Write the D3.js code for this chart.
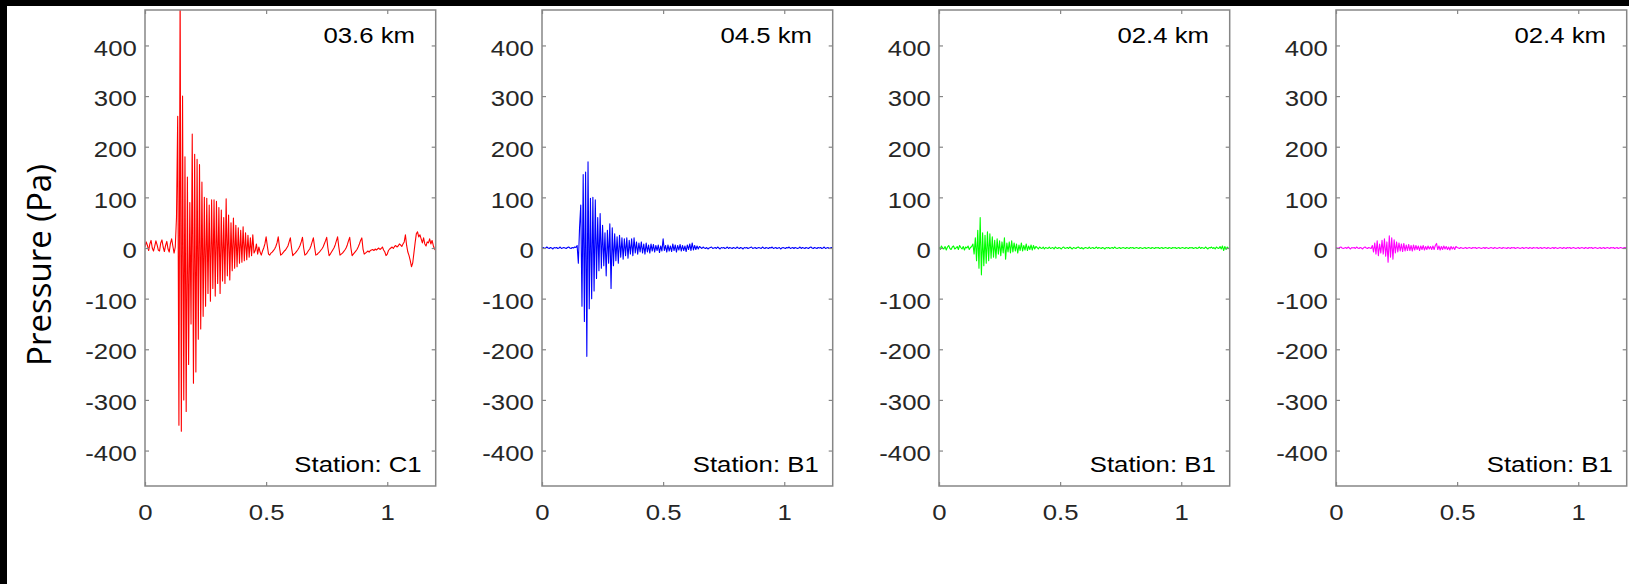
<!DOCTYPE html>
<html>
<head>
<meta charset="utf-8">
<script src="https://d3js.org/d3.v7.min.js"></script>
<style>
body { margin: 0; background: #fff; }
text { font-family: "Liberation Sans", Arial, sans-serif; }
</style>
</head>
<body>
<script>

// sample step of the pressure records (s)
let dt = 0.005;

let xTicks = [0, 0.5, 1];
let yTicks = [-400, -300, -200, -100, 0, 100, 200, 300, 400];
let distLabels = ["03.6 km", "04.5 km", "02.4 km", "02.4 km"];
let stationLabels = ["Station: C1", "Station: B1", "Station: B1", "Station: B1"];
let lineColors = ["#ff0000", "#0000ff", "#00ff00", "#ff00ff"];

// pressure (Pa)
let c1 = [2, 12, 5, -5, 8, 15, 0, -6, 3, 14, 6, -4, -6, 10, 16, 2, -7, 5, 13, -2, -8, 9, 18, 4, -10, 2,
  60, 260, -350, 520, -362, 300, -300, 180, -323, 140, -230, 90, -150, 225, -267, 185, -245, 175, -180, 165,
  -160, 130, -135, 100, -115, 98, -90, 85, -105, 95, -80, 95, -95, 92, -70, 80, -90, 75, -65, 60,
  -70, 97, -55, 65, -63, 50, -45, 59, -40, 45, -37, 40, -30, 35, -28, 42, -25, 30, -23, 25, -18, 20, -15, 26, -10,
  -5, 8, -12, 2, -8, -14, -6, 0, 8, 22,
  4, -12, -14, -10, -8, -5, -2, 3, 10, 22,
  2, -14, -12, -9, -6, -4, 0, 4, 12, 20,
  0, -15, -12, -10, -7, -4, 0, 5, 12, 21,
  0, -14, -12, -9, -5, -2, 4, 12, 20,
  2, -14, -13, -10, -8, -5, -2, 2, 8, 14, 21,
  0, -15, -12, -8, -4, 0, 6, 14, 22,
  2, -14, -12, -10, -7, -4, 0, 6, 14, 21,
  0, -15, -12, -9, -6, -3, 2, 8, 15, 20,
  -2, -12, -10, -8, -6, -8, -5, -4, -3, -5, -2, -4, -2, 0, -3, -1, 2, -4, -8, -15, -12,
  -5, -2, 0, 2, -1, 3, 5, 2, 4, 8, 6, 3, 8, 12, 26,
  5, -8, -15, -25, -37, -30, -10, 10, 28, 32, 22,
  26, 18, 10, 20, 8, 4, 12, 10, 18, 8, 15, 5, -2, -5];

let b1a = [0, 1, -1, 0, 2, 0, -1, 1, 0, -2, 1, 0, 1, -1, 0, 2, -1, 0, 1, 0, -1, 1, 2, 0, -1, 1, 0, 2, 1,
  5, -30, 40, 85, -115, 145, -145, 150, -214, 170, -120, 98, -100, 100, -85, 95, -60, 60, -45, 68,
  -40, 45, -35, 30, -55, 35, -30, 48, -80, 40, -35, 28, -25, 22, -30, 25, -18, 20, -22, 18,
  -15, 20, -20, 15, -12, 18, -15, 20, -10, 12, -12, 10, -8, 12, -10, 8, -12, 10, -8, 6, -10, 8,
  -6, 7, -8, 5, -5, 6, -9, 4, -6, 18,
  -5, 5, -8, 6, -6, 4, -7, 8, -5, 6, -8, 5, -4, 7, -6, 5, -5, 4, -7, 6, -3, 8, -5, 10, -4, 5, -3, 4, -2, 3,
  1, -1, 2, 0, -1, 1, -2, 0, 1, 2, -1, 0, 1, -1, 2, 0, -2, 1, 0, 1, -1, 0, 2, -1, 1, 0, -1, 1, 0, -1,
  2, 0, -1, 1, 0, -2, 1, 0, 1, -1, 0, 1, 2, -1, 0, 1, -1, 0, 1, 0, -1, 2, 0, -1, 1, 0, -1, 1, 0, 2,
  -1, 0, 1, -1, 0, 1, -2, 0, 1, 0, -1, 1, 0, 2, -1, 0, 1, -1, 1, 0, -1, 0, 2, -1, 1, 0, -1, 1, 0, -1,
  1, 2, 0, -1, 1, 0, -1, 1, 0, 1, -1, 0, 2, -1, 0, 1, -1, 0, 1, 0, 1, 0];

let b1b = [2, -3, 4, 0, -2, 3, -4, 2, 5, -1, -3, 2, 4, -2, 0, 3, -3, 5, 1, -2, 3, -4, 2, 0, 4, -3, 1, 3,
  8, -12, 20, -25, 35, -40, 60, -53, 30, -35, 25, -30, 32, -25, 28, -20, 22, -18, 15, -20,
  18, -12, 14, -15, 12, -10, 20, -22, 10, -8, 12, -10, 14, -8, 10, -6, 8, -10, 6, -5,
  10, -6, 5, -4, 8, -5, 4, -3, 6, -4, 5, -2, 3,
  1, -2, 2, 0, -1, 2, -2, 1, 0, -1, 2, -1, 0, 1, -2, 2, 0, -1, 1, 0, -2, 1, 2, -1, 0, 1, -1, 2, 0, -2,
  1, 0, -1, 1, 2, 0, -1, 1, -2, 0, 1, 0, -1, 2, -1, 0, 1, -1, 0, 2, -1, 1, 0, -1, 1, 0, -2, 1, 0, 1,
  -1, 0, 1, -1, 2, 0, -1, 0, 1, -1, 0, 1, 0, -1, 1, 0, -1, 1, 0, 1, -1, 0, 1, 0, -1, 1, 0, -1, 0, 1,
  -1, 0, 1, 0, -1, 1, 0, -1, 1, 0, 1, -1, 0, 1, -1, 0, 1, 0, -1, 1, 0, -1, 1, 0, 1, -1, 0, 1, -1, 0,
  1, 0, -1, 1, 0, -1, 1, 0, 1, -1, 0, 1, -1, 0, 2, -1, 1, 0, -1, 2, 0, -2, 1, 0, 2, -1, 1, -2, 2, 0,
  -1, 3, -2, 4, -5, 3, -3, 2, -1, 0];

let b1c = [1, 0, -1, 1, 2, 0, -1, 0, 1, -1, 2, 0, -2, 1, 0, 1, -1, 2, 0, -1, 1, 0, -2, 1, 2, 0, -1, 1, 0, -1,
  5, -8, 10, -12, 14, -15, 8, -10, 15, -12, 18, -16, 12, -28, 24, -18, 20, -22, 16, -10,
  12, -8, 10, -6, 8, -7, 9, -6, 6, -5, 7, -5, 5, -6, 6, -4, 5, -3, 4, -5,
  4, -3, 5, -4, 3, -3, 4, -2, 3, -3, 4, -3, 5, 9, -3, 4, -4, 3, -3, 4, -2,
  3, -3, 2, -4, 3, -2, 2, -3, 3,
  1, 0, -1, 1, 0, -1, 0, 1, -1, 0, 1, 0, -1, 1, 0, 1, -1, 0, 1, 0, -1, 0, 1, -1, 1, 0, -1, 0, 1, 0,
  -1, 1, 0, -1, 0, 1, 0, -1, 1, 0, 0, -1, 1, 0, -1, 1, 0, 1, -1, 0, 1, 0, -1, 0, 1, -1, 0, 1, 0, -1,
  1, 0, -1, 1, 0, 0, 1, -1, 0, 1, -1, 0, 1, 0, -1, 1, 0, -1, 0, 1, -1, 1, 0, -1, 0, 1, 0, -1, 1, 0,
  -1, 1, 0, 1, -1, 0, 1, 0, -1, 0, 1, -1, 0, 1, 0, -1, 1, 0, -1, 1, 0, 1, -1, 0, 1, 0, -1, 0, 1, -1,
  0, 1, -1, 0, 1, 0, -1, 1, 0, 1, -1, 0, 1, -1, 0, 1, 0, -1, 1, 0, 2];

let series = [c1, b1a, b1b, b1c];

let width = 1629, height = 584;
let plotW = 290.7, plotH = 476;
let left0 = 145, gap = 397, top0 = 10;
let sx = 1.17; // the figure's text is a little wide
let boxColor = "#868686", tickTextColor = "#262626";

let svg = d3.select("body").append("svg").attr("width", width).attr("height", height);

svg.append("rect").attr("width", width).attr("height", height).attr("fill", "#fff");
// black strips along the top and left edges
svg.append("rect").attr("x", 0).attr("y", 0).attr("width", width).attr("height", 6).attr("fill", "#000");
svg.append("rect").attr("x", 0).attr("y", 0).attr("width", 7).attr("height", height).attr("fill", "#000");

var x = d3.scaleLinear().domain([0, 1.2]).range([0, plotW]);
var y = d3.scaleLinear().domain([-470, 470]).range([plotH, 0]);

// plain hyphen for negatives, like the original
var fmt = function(d) { return String(d); };

series.forEach(function(vals, k) {
  let g = svg.append("g").attr("transform", "translate(" + (left0 + k * gap) + "," + top0 + ")");

  g.append("clipPath").attr("id", "clip" + k)
    .append("rect").attr("width", plotW).attr("height", plotH);

  let line = d3.line()
    .x(function(d, i) { return x(i * dt); })
    .y(function(d) { return y(d); });

  g.append("path")
    .datum(vals)
    .attr("clip-path", "url(#clip" + k + ")")
    .attr("d", line)
    .attr("fill", "none")
    .attr("stroke", lineColors[k])
    .attr("stroke-width", 1.1)
    .attr("stroke-linejoin", "round");

  // axes, ticks pointing inwards
  let yl = g.append("g").call(d3.axisLeft(y).tickValues(yTicks).tickSizeInner(-4).tickSizeOuter(0).tickPadding(7).tickFormat(fmt));
  let yr = g.append("g").attr("transform", "translate(" + plotW + ",0)")
    .call(d3.axisRight(y).tickValues(yTicks).tickSizeInner(-4).tickSizeOuter(0).tickFormat(""));
  let xb = g.append("g").attr("transform", "translate(0," + plotH + ")")
    .call(d3.axisBottom(x).tickValues(xTicks).tickSizeInner(-4).tickSizeOuter(0).tickPadding(18).tickFormat(fmt));
  let xt = g.append("g")
    .call(d3.axisTop(x).tickValues(xTicks).tickSizeInner(-4).tickSizeOuter(0).tickFormat(""));

  [yl, yr, xb, xt].forEach(function(a) {
    a.select(".domain").remove();
    a.selectAll(".tick line").attr("stroke", boxColor).attr("stroke-width", 1.2);
    a.selectAll(".tick text")
      .attr("fill", tickTextColor)
      .style("font-size", "22px")
      .style("font-family", "'Liberation Sans', Arial, sans-serif")
      .attr("transform", "scale(" + sx + ",1)");
  });
  yl.selectAll(".tick text").attr("dy", "0.44em");

  g.append("rect")
    .attr("width", plotW).attr("height", plotH)
    .attr("fill", "none").attr("stroke", boxColor).attr("stroke-width", 1.5);

  g.append("text")
    .attr("transform", "translate(" + (plotW - 20.7) + ",33.3) scale(" + sx + ",1)")
    .attr("text-anchor", "end")
    .style("font-size", "22px")
    .attr("fill", "#000")
    .text(distLabels[k]);

  g.append("text")
    .attr("transform", "translate(" + (plotW - 14) + "," + (plotH - 14.3) + ") scale(" + sx + ",1)")
    .attr("text-anchor", "end")
    .style("font-size", "22px")
    .attr("fill", "#000")
    .text(stationLabels[k]);
});

svg.append("text")
  .attr("transform", "translate(51,265) rotate(-90)")
  .attr("text-anchor", "middle")
  .style("font-family", "'Open Sans', 'Noto Sans', sans-serif")
  .style("font-size", "33px")
  .attr("fill", "#000")
  .text("Pressure (Pa)");

</script>
</body>
</html>
